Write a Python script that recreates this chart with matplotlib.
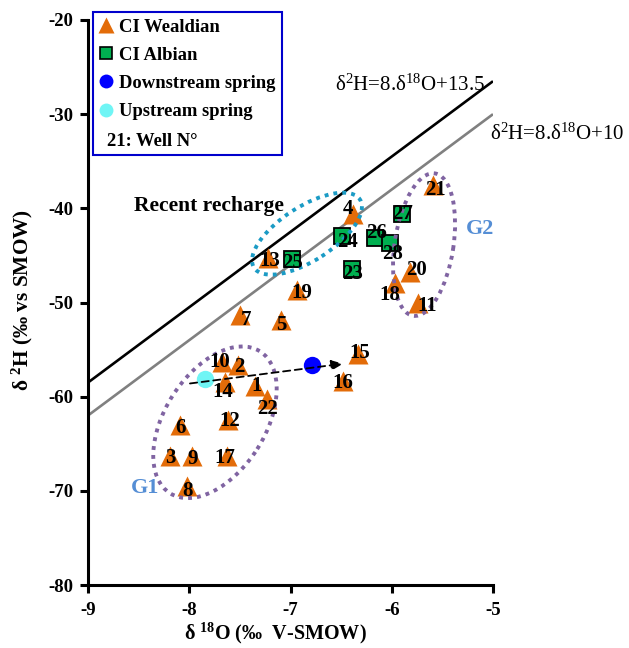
import numpy as np
import matplotlib
matplotlib.use('Agg')
import matplotlib.pyplot as plt
from matplotlib.patches import Ellipse
from matplotlib.transforms import ScaledTranslation
from matplotlib.lines import Line2D

plt.rcParams['font.family'] = ['Liberation Serif', 'DejaVu Serif']
plt.rcParams['mathtext.fontset'] = 'custom'
plt.rcParams['mathtext.rm'] = 'Liberation Serif'
plt.rcParams['mathtext.bf'] = 'Liberation Serif:bold'
plt.rcParams['mathtext.it'] = 'Liberation Serif:italic'
plt.rcParams['axes.unicode_minus'] = False

# ---------------- data ----------------
wealdian_id = [1, 2, 3, 4, 5, 6, 7, 8, 9, 10, 11, 12, 13, 14, 15, 16, 17, 18, 19, 20, 21, 22]
wealdian_d18O = [-7.35, -7.52, -8.19, -6.38, -7.09, -8.09, -7.50, -8.02, -7.97, -7.68, -5.74,
                 -7.62, -7.22, -7.65, -6.33, -6.48, -7.63, -5.97, -6.94, -5.82, -5.59, -7.23]
wealdian_d2H = [-58.9, -56.6, -66.3, -40.6, -51.9, -63.0, -51.3, -69.5, -66.3, -56.3, -50.1,
                -62.5, -45.3, -58.4, -55.5, -58.3, -66.3, -47.9, -48.7, -46.8, -37.5, -60.3]

albian_id = [23, 24, 25, 26, 27, 28]
albian_d18O = [-6.39, -6.49, -6.99, -6.17, -5.90, -6.02]
albian_d2H = [-46.4, -42.9, -45.4, -43.1, -40.6, -43.7]

down_d18O = [-6.79]
down_d2H = [-56.6]
up_d18O = [-7.84]
up_d2H = [-58.1]

line_slope = [8, 8]
line_intercept = [13.5, 10]
line_x = [-9, -5]

x_ticks = [-9, -8, -7, -6, -5]
y_ticks = [-80, -70, -60, -50, -40, -30, -20]

# label offsets (points) for well numbers
label_off = {1: (1.4, 0), 2: (1.4, -1.4), 3: (0, -1.4), 4: (-3.6, 3.6), 5: (0, -3), 6: (0, -2),
             7: (4.3, -3.6), 8: (0, -3.6), 9: (0, -2), 10: (-1.4, 0), 11: (6.5, -2), 12: (1.4, -0.7),
             13: (1.4, -2), 14: (-1.4, -7.2), 15: (0.7, 0.7), 16: (0, -2), 17: (-1.4, -1.4),
             18: (-3.6, -8.6), 19: (3.6, -2), 20: (5, 2), 21: (1.4, -3.6), 22: (0, -6.5),
             23: (0, -3.6), 24: (3.6, -4.3), 25: (0.7, -3), 26: (1.4, 3), 27: (0.7, 0), 28: (2.2, -8)}

ORANGE = '#E36C09'
GREEN = '#00B050'
PURPLE = '#8064A2'
TEAL = '#1B9BC5'
GBLUE = '#558ED5'

fig = plt.figure(figsize=(6.29, 6.48), dpi=100)
ax = fig.add_axes([88/629, 63/648, 405/629, 565/648])
ax.set_xlim(-9, -5)
ax.set_ylim(-80, -20)

# meteoric lines
lx = np.array(line_x, dtype=float)
ax.plot(lx, line_slope[0]*lx + line_intercept[0], color='black', lw=1.9, zorder=2, solid_capstyle='butt')
ax.plot(lx, line_slope[1]*lx + line_intercept[1], color='#808080', lw=1.9, zorder=2, solid_capstyle='butt')

ax.text(-5.08, -26.9, r'δ$^{2}$H=8.δ$^{18}$O+13.5', ha='right', va='center', fontsize=15)
ax.text(-5.03, -32.1, r'δ$^{2}$H=8.δ$^{18}$O+10', ha='left', va='center', fontsize=15, clip_on=False)

# ellipses (centre in data, size in pixels)
def dotted_ellipse(cx, cy, a_px, b_px, ang, color):
    tr = fig.dpi_scale_trans + ScaledTranslation(cx, cy, ax.transData)
    e = Ellipse((0, 0), 2*a_px/100, 2*b_px/100, angle=ang, transform=tr, fill=False,
                edgecolor=color, lw=2.8, linestyle=(0, (1, 1.3)), zorder=4)
    ax.add_patch(e)

dotted_ellipse(-6.837, -42.69, 63, 27, 32.8, TEAL)
dotted_ellipse(-7.746, -62.72, 84, 50, 57.6, PURPLE)
dotted_ellipse(-5.681, -43.85, 72, 29.4, 81.3, PURPLE)

# markers
ax.plot(wealdian_d18O, wealdian_d2H, '^', color=ORANGE, mec='none', ms=15, ls='none', zorder=3)
ax.plot(albian_d18O, albian_d2H, 's', mfc=GREEN, mec='black', mew=1.3, ms=12, ls='none', zorder=3)
ax.plot(down_d18O, down_d2H, 'o', color='#0000FF', mec='none', ms=12.5, ls='none', zorder=3)
ax.plot(up_d18O, up_d2H, 'o', color='#70F5F5', mec='none', ms=12.5, ls='none', zorder=3)

# arrow
ax.annotate('', xy=(-6.48, -56.5), xytext=(-7.993, -58.6),
            arrowprops=dict(arrowstyle='-|>,head_length=0.7,head_width=0.3', color='black', lw=1.3,
                            linestyle=(0, (4, 2.5)), shrinkA=0, shrinkB=0), zorder=5)

# well labels
for ids, xs, ys in [(wealdian_id, wealdian_d18O, wealdian_d2H), (albian_id, albian_d18O, albian_d2H)]:
    for n, x, y in zip(ids, xs, ys):
        ax.annotate(str(n), (x, y), xytext=label_off[n], textcoords='offset points',
                    ha='center', va='center', fontsize=15, fontweight='bold', zorder=6)

ax.text(-7.805, -39.8, 'Recent recharge', ha='center', va='center', fontsize=15.5, fontweight='bold')
ax.text(-5.13, -42.2, 'G2', ha='center', va='center', fontsize=16, fontweight='bold', color=GBLUE)
ax.text(-8.44, -69.7, 'G1', ha='center', va='center', fontsize=16, fontweight='bold', color=GBLUE)

# axes styling
for s in ['top', 'right']:
    ax.spines[s].set_visible(False)
for s in ['left', 'bottom']:
    ax.spines[s].set_linewidth(2.2)
ax.set_xticks(x_ticks)
ax.set_xticklabels([str(v) for v in x_ticks])
ax.set_yticks(y_ticks)
ax.set_yticklabels([str(v) for v in y_ticks])
ax.tick_params(axis='both', direction='out', length=5.5, width=2.2, labelsize=13.5)
ax.tick_params(axis='x', pad=7)
ax.tick_params(axis='y', pad=5)
for lab in ax.get_xticklabels() + ax.get_yticklabels():
    lab.set_fontweight('bold')

fig.text(275/629, 1 - 633/648, r'δ $^{\mathbf{18}}$O (‰  V-SMOW)', ha='center', va='center',
         fontsize=14.5, fontweight='bold')
fig.text(22/629, 1 - 300/648, r'δ $^{\mathbf{2}}$H (‰ vs SMOW)', ha='center', va='center',
         rotation=90, fontsize=15.3, fontweight='bold')

# legend
handles = [Line2D([], [], marker='^', color=ORANGE, mec='none', ls='none', ms=11),
           Line2D([], [], marker='s', mfc=GREEN, mec='black', mew=1.2, ls='none', ms=8),
           Line2D([], [], marker='o', color='#0000FF', mec='none', ls='none', ms=10),
           Line2D([], [], marker='o', color='#70F5F5', mec='none', ls='none', ms=10),
           Line2D([], [], ls='none')]
labels = ['CI Wealdian', 'CI Albian', 'Downstream spring', 'Upstream spring', ' ']
leg = ax.legend(handles, labels, loc='upper left', bbox_to_anchor=(93/629, 1 - 12/648),
                bbox_transform=fig.transFigure, frameon=True, fancybox=False, edgecolor='#0000CC',
                framealpha=1, prop=dict(family='Liberation Serif', weight='bold', size=13.4),
                handlelength=0.7, handletextpad=0.35, labelspacing=0.6, borderpad=0.35,
                borderaxespad=0)
leg.get_frame().set_linewidth(1.5)
leg.set_zorder(10)
fig.text(107/629, 1 - 141/648, '21: Well N°', ha='left', va='center', fontsize=13.4,
         fontweight='bold', zorder=20)

fig.savefig('out.png', dpi=100)
